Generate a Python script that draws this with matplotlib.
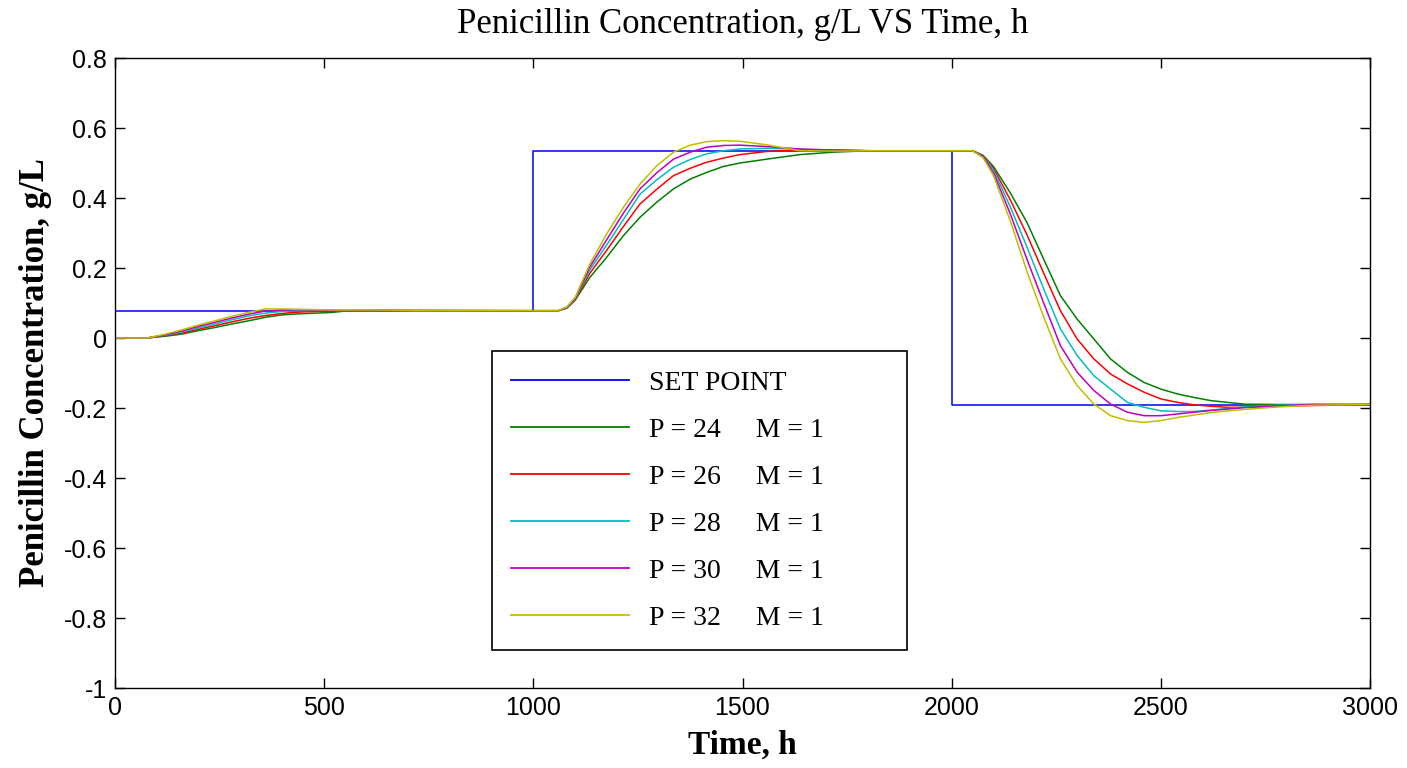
import matplotlib
matplotlib.use("Agg")
import matplotlib.pyplot as plt

# ---------------- data ----------------
sp_t = [0, 1000, 1000, 2000, 2000, 3000]
sp_v = [0.078, 0.078, 0.535, 0.535, -0.19, -0.19]

t1 = [0, 77, 120, 159, 199, 239, 279, 319, 359, 399, 438, 478, 518, 558, 638, 717, 1000]
t2 = [1060, 1080, 1100, 1135, 1175, 1215, 1255, 1295, 1335, 1375, 1414, 1454, 1494,
      1558, 1637, 1717, 1800, 2000]
t3 = [2050, 2075, 2100, 2140, 2180, 2220, 2260, 2300, 2340, 2380, 2420, 2460, 2500,
      2540, 2580, 2620, 2660, 2700, 2780, 2860, 3000]
time = t1 + t2 + t3

p24 = ([0, 0, .005, .011, .021, .030, .040, .049, .059, .066, .069, .071, .073, .078, .078, .078, .078]
       + [.078, .085, .108, .173, .230, .292, .345, .388, .426, .454, .473, .490, .500, .511, .524, .531, .535, .535]
       + [.535, .522, .490, .415, .330, .225, .121, .054, -.003, -.060, -.098, -.127, -.146, -.160, -.170,
          -.179, -.184, -.189, -.190, -.190, -.190])
p26 = ([0, 0, .007, .014, .025, .035, .046, .056, .064, .070, .074, .076, .077, .077, .078, .078, .078]
       + [.078, .086, .110, .185, .250, .318, .383, .425, .464, .485, .502, .514, .524, .533, .537, .537, .535, .535]
       + [.535, .520, .485, .395, .295, .185, .078, -.003, -.060, -.103, -.131, -.155, -.174, -.184, -.191,
          -.195, -.198, -.198, -.195, -.193, -.190])
p28 = ([0, 0, .008, .017, .029, .040, .052, .063, .071, .076, .078, .079, .079, .078, .078, .078, .078]
       + [.078, .087, .112, .195, .265, .338, .411, .452, .488, .510, .526, .535, .540, .542, .539, .537, .535, .535]
       + [.535, .519, .480, .375, .260, .140, .026, -.050, -.108, -.146, -.184, -.198, -.208, -.210, -.210,
          -.206, -.201, -.197, -.192, -.190, -.190])
p30 = ([0, 0, .009, .020, .033, .045, .057, .068, .077, .080, .081, .080, .079, .079, .080, .079, .078]
       + [.078, .088, .114, .203, .280, .356, .426, .472, .511, .531, .545, .550, .551, .547, .540, .537, .535, .535]
       + [.535, .518, .472, .355, .225, .100, -.022, -.098, -.150, -.189, -.212, -.222, -.222, -.217, -.212,
          -.207, -.203, -.199, -.194, -.190, -.190])
p32 = ([0, 0, .011, .023, .037, .049, .062, .073, .083, .083, .082, .081, .080, .080, .080, .078, .078]
       + [.078, .089, .116, .211, .297, .373, .440, .492, .531, .551, .561, .564, .562, .552, .535, .534, .535, .535]
       + [.535, .515, .464, .335, .190, .060, -.060, -.136, -.189, -.222, -.236, -.241, -.236, -.227, -.220,
          -.213, -.208, -.204, -.197, -.192, -.190])

series = [p24, p26, p28, p30, p32]
labels = ["SET POINT", "P = 24     M = 1", "P = 26     M = 1", "P = 28     M = 1",
          "P = 30     M = 1", "P = 32     M = 1"]
colors = ["#0000ff", "#008000", "#ff0000", "#00bfbf", "#bf00bf", "#bfbf00"]

xticks = [0, 500, 1000, 1500, 2000, 2500, 3000]
yticks = [-1, -0.8, -0.6, -0.4, -0.2, 0, 0.2, 0.4, 0.6, 0.8]
ytick_labels = ["-1", "-0.8", "-0.6", "-0.4", "-0.2", "0", "0.2", "0.4", "0.6", "0.8"]

# ---------------- figure ----------------
fig = plt.figure(figsize=(14.07, 7.68), dpi=100)
ax = fig.add_axes([115 / 1407, 1 - 688 / 768, 1255 / 1407, 630 / 768])

ax.plot(sp_t, sp_v, color=colors[0], lw=1.1, label=labels[0])
for vals, lab, col in zip(series, labels[1:], colors[1:]):
    ax.plot(time, vals, color=col, lw=1.1, label=lab)

ax.set_xlim(0, 3000)
ax.set_ylim(-1, 0.8)
ax.set_xticks(xticks)
ax.set_yticks(yticks)
ax.set_yticklabels(ytick_labels)
ax.tick_params(direction="in", length=7, width=1, top=True, right=True,
               labelsize=18, pad=6)
for lbl in ax.get_xticklabels() + ax.get_yticklabels():
    lbl.set_family("Liberation Sans")
for s in ax.spines.values():
    s.set_linewidth(1.0)

serif = "Liberation Serif"
ax.set_title("Penicillin Concentration, g/L VS Time, h", family=serif,
             fontsize=25, pad=18)
ax.set_xlabel("Time, h", family=serif, fontsize=24, fontweight="bold", labelpad=7)
ax.set_ylabel("Penicillin Concentration, g/L", family=serif, fontsize=25,
              fontweight="bold", labelpad=8)

leg = ax.legend(loc="lower left", bbox_to_anchor=(0.3004, 0.0603, 0.3307, 0.2),
                mode="expand",
                prop={"family": serif, "size": 20}, frameon=True, fancybox=False,
                edgecolor="black", framealpha=1, handlelength=4.25, handletextpad=0.72,
                labelspacing=0.78, borderpad=0.68, borderaxespad=0)
leg.get_frame().set_linewidth(1.2)
for line in leg.get_lines():
    line.set_linewidth(1.3)

fig.savefig("out.png", dpi=100)
